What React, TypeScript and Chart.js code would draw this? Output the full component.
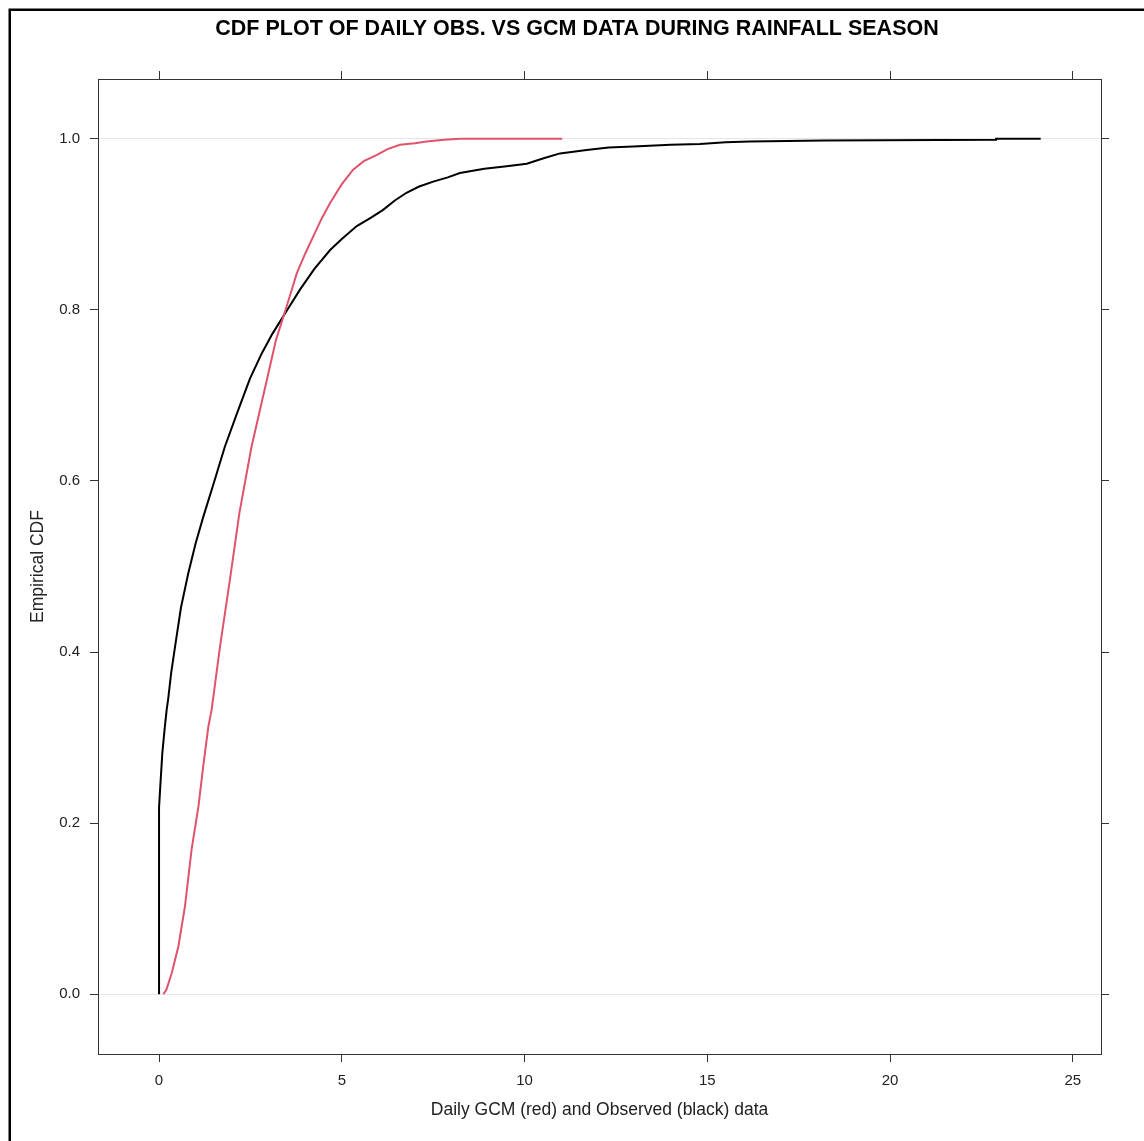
import React, { useEffect, useRef } from 'react';
import { Chart, registerables } from 'chart.js';

Chart.register(...registerables);

const TITLE = 'CDF PLOT OF DAILY OBS. VS GCM DATA DURING RAINFALL SEASON';
const X_LABEL = 'Daily GCM (red) and Observed (black) data';
const Y_LABEL = 'Empirical CDF';

const xTicks = [0, 5, 10, 15, 20, 25];
const yTicks = [0, 0.2, 0.4, 0.6, 0.8, 1.0];

// Observed (black) empirical CDF
const obsX = [0, 0, 0.03, 0.09, 0.16, 0.21, 0.25, 0.33, 0.44, 0.6, 0.8, 1.0, 1.21, 1.5, 1.8, 2.14, 2.49, 2.82, 3.1, 3.45, 3.86, 4.25, 4.68, 5.0, 5.41, 5.8, 6.13, 6.45, 6.77, 7.1, 7.5, 7.9, 8.23, 8.9, 9.51, 10.06, 10.5, 10.97, 11.7, 12.3, 12.97, 14.0, 14.8, 15.5, 16.16, 18.2, 22.9, 22.9, 24.12];
const obsF = [0, 0.218, 0.24, 0.282, 0.313, 0.333, 0.345, 0.375, 0.407, 0.452, 0.492, 0.527, 0.558, 0.598, 0.64, 0.68, 0.72, 0.75, 0.772, 0.796, 0.824, 0.848, 0.87, 0.883, 0.898, 0.908, 0.917, 0.928, 0.937, 0.944, 0.95, 0.955, 0.96, 0.965, 0.968, 0.971, 0.977, 0.983, 0.987, 0.99, 0.991, 0.993, 0.994, 0.996, 0.997, 0.998, 0.999, 1.0, 1.0];

// GCM (red) empirical CDF
const gcmX = [0.12, 0.2, 0.35, 0.53, 0.71, 0.89, 1.08, 1.21, 1.35, 1.44, 1.67, 1.94, 2.2, 2.53, 2.96, 3.2, 3.49, 3.77, 4.0, 4.22, 4.45, 4.68, 5.0, 5.31, 5.6, 5.95, 6.25, 6.59, 7.0, 7.32, 7.8, 8.23, 11.03];
const gcmF = [0, 0.005, 0.025, 0.056, 0.103, 0.169, 0.22, 0.267, 0.313, 0.333, 0.407, 0.485, 0.563, 0.64, 0.72, 0.765, 0.804, 0.843, 0.866, 0.886, 0.907, 0.925, 0.947, 0.964, 0.974, 0.981, 0.988, 0.993, 0.995, 0.997, 0.999, 1.0, 1.0];

const X_MIN = -1.67;
const X_MAX = 25.77;
const Y_MIN = -0.07;
const Y_MAX = 1.07;

const FONT = '"Liberation Sans", Arial, sans-serif';
const AXIS_COLOR = '#333';
const TEXT_COLOR = '#222';

const framePlugin = {
  id: 'outerFrame',
  afterDraw(chart: any) {
    const ctx = chart.ctx;
    ctx.save();
    ctx.strokeStyle = '#000';
    ctx.lineWidth = 2.5;
    ctx.beginPath();
    ctx.moveTo(9.75, chart.height);
    ctx.lineTo(9.75, 9.75);
    ctx.lineTo(chart.width, 9.75);
    ctx.stroke();
    ctx.restore();
  },
};

export default function App() {
  const ref = useRef<HTMLCanvasElement | null>(null);

  useEffect(() => {
    document.body.style.margin = '0';
    document.body.style.overflow = 'hidden';
    const canvas = ref.current;
    if (!canvas) return;

    const setTicks = (vals: number[]) => (scale: any) => {
      scale.ticks = vals.map((v) => ({ value: v }));
    };

    const chart = new Chart(canvas, {
      type: 'scatter',
      data: {
        datasets: [
          {
            label: 'GCM',
            data: gcmX.map((x, i) => ({ x, y: gcmF[i] })),
            showLine: true,
            borderColor: '#DF536B',
            backgroundColor: '#DF536B',
            borderWidth: 2,
            pointRadius: 0,
            tension: 0,
            xAxisID: 'x',
            yAxisID: 'y',
          },
          {
            label: 'Observed',
            data: obsX.map((x, i) => ({ x, y: obsF[i] })),
            showLine: true,
            borderColor: '#000',
            backgroundColor: '#000',
            borderWidth: 2,
            pointRadius: 0,
            tension: 0,
            xAxisID: 'x',
            yAxisID: 'y',
          },
        ],
      },
      options: {
        responsive: false,
        animation: false,
        devicePixelRatio: 1,
        layout: { padding: { left: 10, right: 0, top: 0, bottom: 0 } },
        plugins: {
          legend: { display: false },
          tooltip: { enabled: false },
          title: {
            display: true,
            text: TITLE,
            color: '#000',
            font: { family: FONT, size: 21.5, weight: 'bold', lineHeight: 1.2 },
            padding: { top: 16.6, bottom: 28.6 },
          },
        },
        scales: {
          x: {
            type: 'linear',
            position: 'bottom',
            min: X_MIN,
            max: X_MAX,
            afterBuildTicks: setTicks(xTicks),
            afterFit: (s: any) => { s.height = 87; },
            ticks: {
              color: TEXT_COLOR,
              font: { family: FONT, size: 15 },
              padding: 10,
              maxRotation: 0,
              callback: (v: any) => String(v),
            },
            grid: { drawOnChartArea: false, drawTicks: true, tickLength: 8, tickColor: AXIS_COLOR, color: AXIS_COLOR },
            border: { display: true, color: AXIS_COLOR, width: 1 },
            title: {
              display: true,
              text: X_LABEL,
              color: TEXT_COLOR,
              font: { family: FONT, size: 17.5, lineHeight: 1.2 },
              padding: { top: 0, bottom: 20 },
            },
          },
          x2: {
            type: 'linear',
            position: 'top',
            min: X_MIN,
            max: X_MAX,
            afterBuildTicks: setTicks(xTicks),
            afterFit: (s: any) => { s.height = 8; },
            ticks: { display: false },
            grid: { drawOnChartArea: false, drawTicks: true, tickLength: 8, tickColor: AXIS_COLOR, color: AXIS_COLOR },
            border: { display: true, color: AXIS_COLOR, width: 1 },
          },
          y: {
            type: 'linear',
            position: 'left',
            min: Y_MIN,
            max: Y_MAX,
            afterBuildTicks: setTicks(yTicks),
            afterFit: (s: any) => { s.width = 88; },
            ticks: {
              color: TEXT_COLOR,
              font: { family: FONT, size: 15 },
              padding: 10,
              callback: (v: any) => Number(v).toFixed(1),
            },
            grid: {
              drawOnChartArea: true,
              drawTicks: true,
              tickLength: 8,
              tickColor: AXIS_COLOR,
              color: (c: any) =>
                c.tick && (c.tick.value === 0 || c.tick.value === 1) ? '#e6e6e6' : 'rgba(0,0,0,0)',
            },
            border: { display: true, color: AXIS_COLOR, width: 1 },
            title: {
              display: true,
              text: Y_LABEL,
              color: TEXT_COLOR,
              font: { family: FONT, size: 17.5, lineHeight: 1.2 },
              padding: { top: 17.5, bottom: 0 },
            },
          },
          y2: {
            type: 'linear',
            position: 'right',
            min: Y_MIN,
            max: Y_MAX,
            afterBuildTicks: setTicks(yTicks),
            afterFit: (s: any) => { s.width = 43; },
            ticks: { display: false },
            grid: { drawOnChartArea: false, drawTicks: true, tickLength: 8, tickColor: AXIS_COLOR, color: AXIS_COLOR },
            border: { display: true, color: AXIS_COLOR, width: 1 },
          },
        },
      },
      plugins: [framePlugin],
    } as any);

    return () => {
      chart.destroy();
    };
  }, []);

  return (
    <canvas
      ref={ref}
      width={1144}
      height={1141}
      style={{ display: 'block', width: '1144px', height: '1141px' }}
    />
  );
}
